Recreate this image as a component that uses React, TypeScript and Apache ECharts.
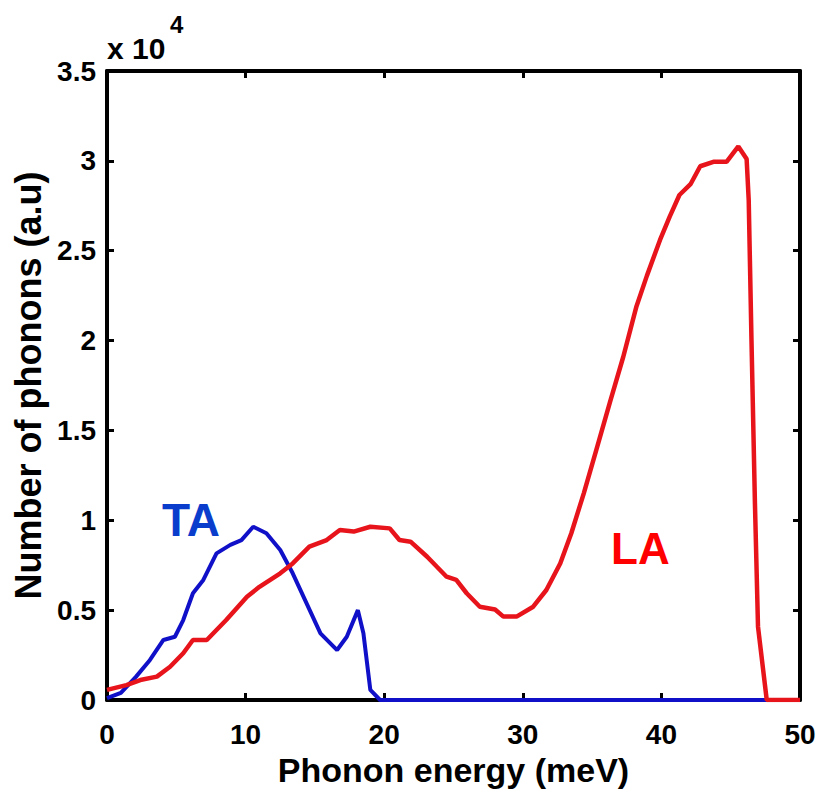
import React, { useEffect, useRef } from "react";
import * as echarts from "echarts";

const xTicks = [0, 10, 20, 30, 40, 50];
const yTickLabels = ["0", "0.5", "1", "1.5", "2", "2.5", "3", "3.5"];

const taX = [0, 1, 2.1, 3.1, 4.07, 4.9, 5.5, 6.2, 6.95, 7.9, 8.9, 9.7, 10.55, 11.5, 12.5, 13.4, 14.4, 15.4, 16.6, 17.3, 18.1, 18.5, 19.0, 19.7, 50];
const taY = [100, 400, 1300, 2230, 3340, 3520, 4450, 5940, 6680, 8160, 8630, 8900, 9640, 9280, 8350, 7050, 5380, 3710, 2780, 3520, 5000, 3710, 560, 0, 0];

const laX = [0, 1.4, 2.4, 3.6, 4.55, 5.5, 6.2, 7.2, 8.6, 10.1, 11.0, 12.5, 13.4, 14.6, 15.85, 16.8, 17.8, 19.0, 20.4, 21.1, 21.9, 23.1, 24.5, 25.2, 25.95, 26.9, 28.0, 28.6, 29.55, 30.75, 31.7, 32.7, 33.5, 34.4, 35.3, 36.3, 37.25, 38.2, 38.95, 39.9, 40.6, 41.3, 42.1, 42.8, 43.75, 44.7, 45.55, 46.15, 46.3, 46.5, 46.75, 46.97, 47.6, 50];
const laY = [560, 830, 1110, 1300, 1850, 2600, 3340, 3340, 4450, 5750, 6300, 7050, 7600, 8530, 8900, 9460, 9370, 9640, 9550, 8900, 8810, 7970, 6860, 6680, 5940, 5190, 5040, 4640, 4640, 5190, 6120, 7600, 9280, 11500, 13900, 16600, 19100, 21900, 23600, 25600, 26900, 28100, 28700, 29700, 29950, 29950, 30800, 30100, 27800, 20000, 10900, 4080, 0, 0];

const xTitle = "Phonon energy (meV)";
const yTitle = "Number of phonons (a.u)";
const font = "'Liberation Sans', Arial, Helvetica, sans-serif";

export default function App() {
  const ref = useRef<HTMLDivElement>(null);
  useEffect(() => {
    if (!ref.current) return;
    const chart = echarts.init(ref.current, null, { renderer: "svg" });
    const tickStyle = { show: true, inside: true, length: 7, lineStyle: { color: "#000", width: 3 } };
    const lineStyle = { show: true, lineStyle: { color: "#000", width: 4 } };
    chart.setOption({
      animation: false,
      backgroundColor: "#fff",
      grid: { left: 107, right: 20, top: 71, bottom: 92, containLabel: false },
      xAxis: [
        {
          type: "value",
          min: xTicks[0],
          max: xTicks[xTicks.length - 1],
          interval: 10,
          axisLine: { ...lineStyle, onZero: false },
          axisTick: tickStyle,
          splitLine: { show: false },
          axisLabel: {
            margin: 20,
            color: "#000",
            fontSize: 28,
            fontWeight: "bold",
            fontFamily: font,
          },
          name: xTitle,
          nameLocation: "middle",
          nameGap: 46,
          nameTextStyle: { color: "#000", fontSize: 34, fontWeight: "bold", fontFamily: font },
        },
        {
          type: "value",
          position: "top",
          min: 0,
          max: 50,
          interval: 10,
          axisLine: { ...lineStyle, onZero: false },
          axisTick: tickStyle,
          axisLabel: { show: false },
          splitLine: { show: false },
        },
      ],
      yAxis: [
        {
          type: "value",
          min: 0,
          max: 35000,
          interval: 5000,
          axisLine: { ...lineStyle, onZero: false },
          axisTick: tickStyle,
          splitLine: { show: false },
          axisLabel: {
            margin: 11,
            color: "#000",
            fontSize: 28,
            fontWeight: "bold",
            fontFamily: font,
            formatter: (v: number) => yTickLabels[Math.round(v / 5000)] ?? String(v / 10000),
          },
          name: yTitle,
          nameLocation: "middle",
          nameGap: 58,
          nameRotate: 90,
          nameTextStyle: {
            color: "#000",
            fontSize: 36,
            fontWeight: "bold",
            fontFamily: font,
          },
        },
        {
          type: "value",
          position: "right",
          min: 0,
          max: 35000,
          interval: 5000,
          axisLine: { ...lineStyle, onZero: false },
          axisTick: tickStyle,
          axisLabel: { show: false },
          splitLine: { show: false },
        },
      ],
      series: [
        {
          name: "TA",
          type: "line",
          showSymbol: false,
          data: taX.map((x, i) => [x, taY[i]]),
          lineStyle: { color: "#1010c8", width: 4 },
          itemStyle: { color: "#1010c8" },
          z: 3,
        },
        {
          name: "LA",
          type: "line",
          showSymbol: false,
          data: laX.map((x, i) => [x, laY[i]]),
          lineStyle: { color: "#e8141c", width: 4.5 },
          itemStyle: { color: "#e8141c" },
          z: 4,
        },
      ],
      graphic: [
        {
          type: "text",
          x: 107,
          y: 48,
          style: { text: "x 10", fill: "#000", fontSize: 30, fontWeight: "bold", fontFamily: font, verticalAlign: "middle", align: "left" },
        },
        {
          type: "text",
          x: 170,
          y: 24,
          style: { text: "4", fill: "#000", fontSize: 24, fontWeight: "bold", fontFamily: font, verticalAlign: "middle", align: "left" },
        },
        {
          type: "text",
          x: 162,
          y: 520,
          z: 10,
          style: { text: "TA", fill: "#0a3dcc", fontSize: 46, fontWeight: "bold", fontFamily: font, verticalAlign: "middle", align: "left" },
        },
        {
          type: "text",
          x: 611,
          y: 548,
          z: 10,
          style: { text: "LA", fill: "#ff0000", fontSize: 44, fontWeight: "bold", fontFamily: font, verticalAlign: "middle", align: "left" },
        },
      ],
    });
    return () => chart.dispose();
  }, []);
  return <div ref={ref} style={{ position: "absolute", left: 0, top: 0, width: 820, height: 792 }} />;
}
